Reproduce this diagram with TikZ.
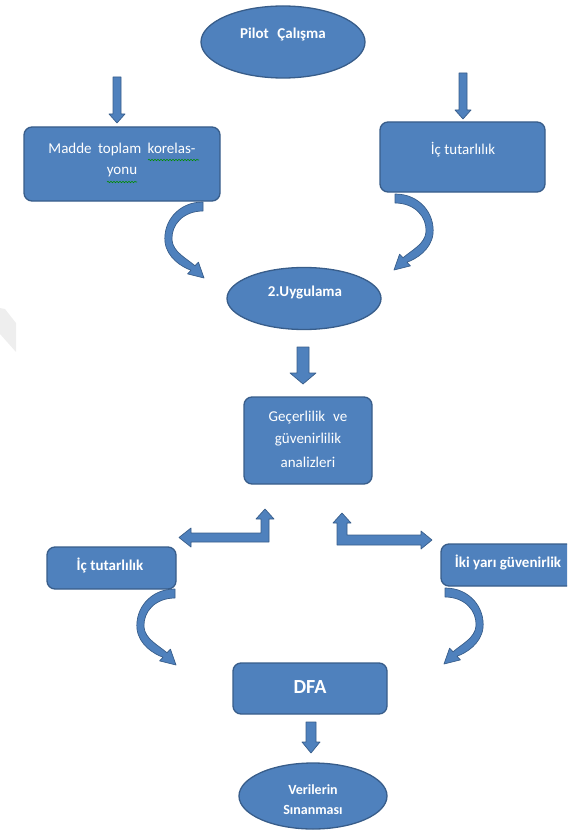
\documentclass[tikz,border=0pt]{standalone}
\usepackage{fontspec}
\setmainfont{Carlito}
\usetikzlibrary{shapes.geometric,decorations.pathmorphing}
\definecolor{ofblue}{RGB}{79,129,189}
\definecolor{ofborder}{RGB}{56,93,138}
\definecolor{wmark}{RGB}{238,238,238}
\tikzset{
  blk/.style={fill=ofblue, draw=ofborder, line width=1.3pt},
  boxshape/.style={blk, rectangle, rounded corners=8pt, inner sep=0pt},
  ellshape/.style={blk, ellipse, inner sep=0pt},
  arr/.style={fill=ofblue, draw=ofborder, line width=0.7pt, line join=round},
  txt/.style={text=white, inner sep=0pt, font=\fontsize{15}{18}\selectfont},
  btxt/.style={text=white, inner sep=0pt, font=\fontsize{15}{18}\selectfont\bfseries},
  spell/.style={draw=green!55!black, line width=0.6pt, decorate,
    decoration={snake, amplitude=0.7pt, segment length=3pt}},
  carrow/.pic={
    \filldraw[arr] (0,0) .. controls (-25,0) and (-40,20) .. (-38,40)
      .. controls (-36,56) and (-21,65) .. (-12,68.2) -- (-15.4,71.9) -- (1,76)
      -- (-4.6,60.1) -- (-8,63.8) .. controls (-17,56) and (-30,50) .. (-31,38)
      .. controls (-32,23) and (-20,9) .. (0,9) -- cycle;
  }
}
\begin{document}
\begin{tikzpicture}[x=1pt, y=-1pt]
\useasboundingbox (0,0) rectangle (567,837);
\clip (0,0) rectangle (567,837);
% faint watermark
\fill[wmark] (0,308) -- (5,309) -- (16,323) -- (16,352) -- (0,334) -- cycle;

% nodes
\node[ellshape, minimum width=164, minimum height=72] (pilot) at (283,42) {};
\node[btxt] (pilotT) at (283,34) {Pilot\hspace{0.35em} Çalışma};

\node[boxshape, minimum width=196, minimum height=74] (madde) at (122,164) {};
\node[txt] (maddeA) at (122,150) {Madde\hspace{0.2em} toplam\hspace{0.2em} korelas-};
\node[txt] (maddeB) at (122,172) {yonu};
\draw[spell] (148,160) -- (199,160);
\draw[spell] (107,182) -- (137,182);

\node[boxshape, minimum width=165, minimum height=70] (ic1) at (462.5,157) {};
\node[txt] (ic1T) at (463,150) {İç tutarlılık};

\node[ellshape, minimum width=154, minimum height=62] (uyg) at (304,298.5) {};
\node[btxt] (uygT) at (305,293) {2.Uygulama};

\node[boxshape, minimum width=128, minimum height=87] (gec) at (308,440.5) {};
\node[txt] (gecA) at (308,418) {Geçerlilik\hspace{0.3em} ve};
\node[txt] (gecB) at (308,440) {güvenirlilik};
\node[txt] (gecC) at (308,462) {analizleri};

\node[boxshape, minimum width=129, minimum height=42] (ic2) at (111.5,568) {};
\node[btxt] (ic2T) at (110,565) {İç tutarlılık};

\node[boxshape, minimum width=134, minimum height=42] (iki) at (508,565) {};
\node[btxt] (ikiT) at (508,562) {İki yarı güvenirlik};

\node[boxshape, minimum width=154, minimum height=51] (dfa) at (310,688.5) {};
\node[btxt, font=\fontsize{20}{24}\selectfont\bfseries] (dfaT) at (310,687) {DFA};

\node[ellshape, minimum width=148, minimum height=66] (ver) at (313,796) {};
\node[btxt, font=\fontsize{14}{17}\selectfont\bfseries] (verA) at (313,790) {Verilerin};
\node[btxt, font=\fontsize{14}{17}\selectfont\bfseries] (verB) at (313,810) {Sınanması};

% straight block arrows
\filldraw[arr] (113,77) -- (121,77) -- (121,114) -- (125,114) -- (117,123) -- (109,114) -- (113,114) -- cycle;
\filldraw[arr] (459,73) -- (467,73) -- (467,110) -- (471,110) -- (463,119) -- (455,110) -- (459,110) -- cycle;
\filldraw[arr] (297,347) -- (309,347) -- (309,373) -- (316,373) -- (303,384) -- (290,373) -- (297,373) -- cycle;
\filldraw[arr] (306,722) -- (316,722) -- (316,742) -- (320,742) -- (311,753) -- (302,742) -- (306,742) -- cycle;

% curved arrows
\pic at (203,202) {carrow};
\pic[xscale=-1] at (395,194) {carrow};
\pic at (175,589) {carrow};
\pic[xscale=-1] at (445,588) {carrow};

% bent double-headed arrows
\filldraw[arr] (269,542) -- (269,519) -- (274,519) -- (265,509) -- (256,519) -- (261,519)
  -- (261,533) -- (191,533) -- (191,528) -- (179,537.5) -- (191,547) -- (191,542) -- cycle;
\filldraw[arr] (337,545) -- (337,523) -- (333,523) -- (342,513) -- (351,523) -- (347,523)
  -- (347,535) -- (421,535) -- (421,531) -- (432,540) -- (421,549) -- (421,545) -- cycle;
\end{tikzpicture}
\end{document}
